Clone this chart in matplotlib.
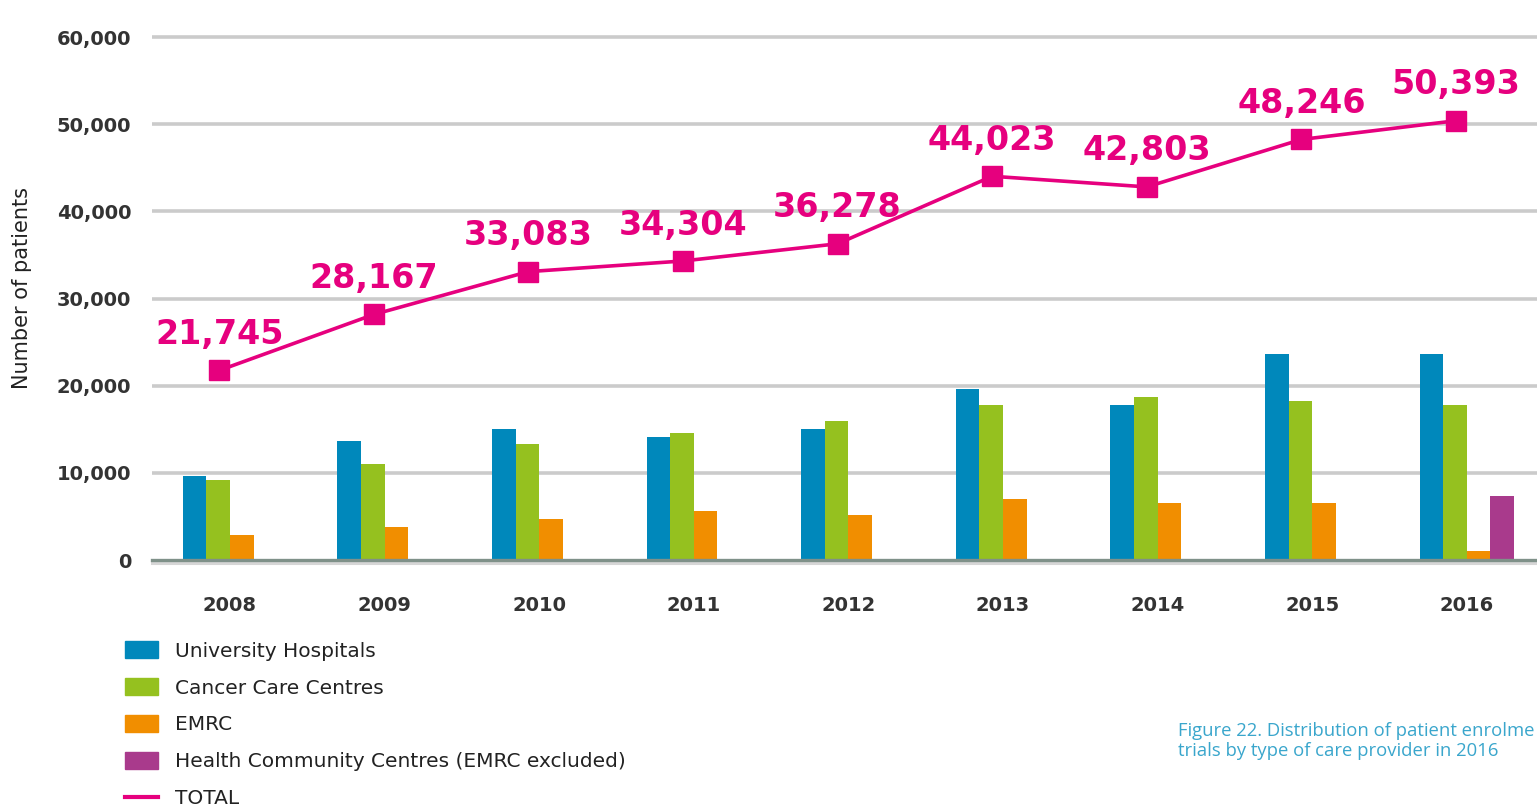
import matplotlib
matplotlib.use("Agg")
import matplotlib.pyplot as plt
import numpy as np
from matplotlib.patches import Patch
from matplotlib.lines import Line2D

# Data
years = ["2008", "2009", "2010", "2011", "2012", "2013", "2014", "2015", "2016"]
university = [9600, 13650, 15000, 14100, 15000, 19600, 17800, 23600, 23600]
cancer_care = [9200, 11000, 13300, 14550, 15900, 17800, 18700, 18250, 17800]
emrc = [2850, 3800, 4700, 5600, 5150, 7000, 6550, 6550, 1000]
health_comm = [0, 0, 0, 0, 0, 0, 0, 0, 7350]
total = [21745, 28167, 33083, 34304, 36278, 44023, 42803, 48246, 50393]

c_blue = "#0088bb"
c_green = "#95c11f"
c_orange = "#f18e00"
c_purple = "#a93a8c"
c_pink = "#e6007e"

W, H = 1537, 811
fig = plt.figure(figsize=(W / 100, H / 100), dpi=100)

# axes placement (pixel geometry of the reference)
y0_px, y60_px = 560, 37
ymax = 62000
px_per = (y0_px - y60_px) / 60000
ax_bottom = (H - y0_px) / H
ax_height = (ymax * px_per) / H
group_w = 154.6
x_left, x_first = 152, 230
xlo = -(x_first - x_left) / group_w
xhi = (W - x_first) / group_w
ax = fig.add_axes([x_left / W, ax_bottom, 1 - x_left / W, ax_height])
ax.set_xlim(xlo, xhi)
ax.set_ylim(0, ymax)

x = np.arange(len(years))
bw = 23.6 / group_w

for y in range(10000, 60001, 10000):
    ax.axhline(y, color="#cbcbcb", lw=2.6, zorder=0)
ax.axhline(0, color="#7f9189", lw=2.4, zorder=3, clip_on=False)
ax.axhline(-400, color="#d6d6d6", lw=2.2, zorder=0, clip_on=False)

ax.bar(x - 1.5 * bw, university, bw, color=c_blue, zorder=2)
ax.bar(x - 0.5 * bw, cancer_care, bw, color=c_green, zorder=2)
ax.bar(x + 0.5 * bw, emrc, bw, color=c_orange, zorder=2)
ax.bar(x + 1.5 * bw, health_comm, bw, color=c_purple, zorder=2)

xm = x - 0.07
ax.plot(xm, total, color=c_pink, lw=2.6, marker="s", markersize=14, zorder=4)
for xi, v in zip(xm, total):
    ax.annotate(f"{v:,}", (xi, v), xytext=(0, 14), textcoords="offset points",
                ha="center", va="bottom", color=c_pink, fontsize=24,
                fontweight="bold", family="DejaVu Sans")

for s in ax.spines.values():
    s.set_visible(False)

ax.set_yticks(range(0, 60001, 10000))
ax.set_yticklabels([f"{v:,}" for v in range(0, 60001, 10000)])
ax.set_xticks(x)
ax.set_xticklabels(years)
ax.tick_params(axis="both", length=0, colors="#333333", labelsize=14)
ax.tick_params(axis="y", pad=15)
ax.tick_params(axis="x", pad=26)
for lab in ax.get_xticklabels() + ax.get_yticklabels():
    lab.set_fontweight("bold")

fig.text(22 / W, 1 - 288 / H, "Number of patients", rotation=90, ha="center",
         va="center", fontsize=15, color="#222222")

handles = [Patch(color=c_blue), Patch(color=c_green), Patch(color=c_orange),
           Patch(color=c_purple), Line2D([], [], color=c_pink, lw=3)]
labels = ["University Hospitals", "Cancer Care Centres", "EMRC",
          "Health Community Centres (EMRC excluded)", "TOTAL"]
leg = fig.legend(handles, labels, loc="upper left",
                 bbox_to_anchor=(125 / W, 1 - 641 / H), frameon=False,
                 fontsize=14.5, labelspacing=0.86, handlelength=1.65,
                 handleheight=0.95, handletextpad=0.85, borderpad=0, borderaxespad=0)
for t in leg.get_texts():
    t.set_color("#222222")

fig.text(1178 / W, 1 - 722 / H,
         "Figure 22. Distribution of patient enrolme\n"
         "trials by type of care provider in 2016",
         ha="left", va="top", fontsize=13.3, color="#3aa6cc", family="Open Sans",
         linespacing=1.15)

fig.savefig("out.png", dpi=100)
